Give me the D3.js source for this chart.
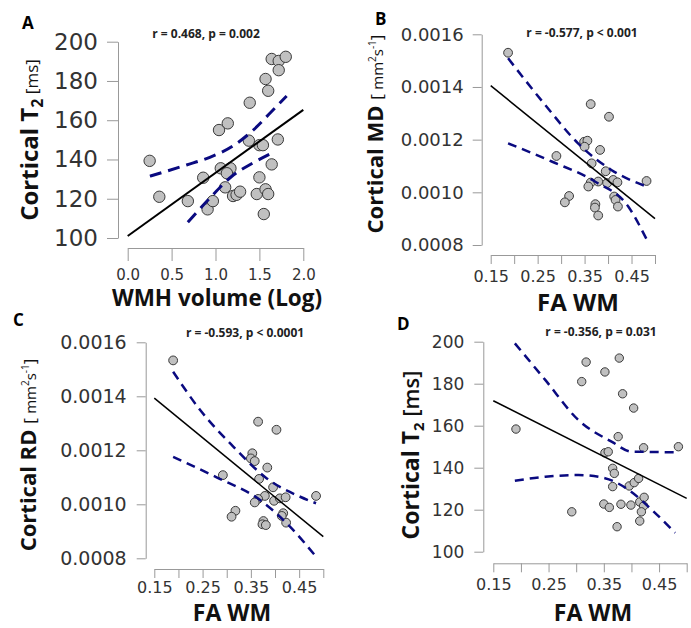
<!DOCTYPE html>
<html>
<head>
<meta charset="utf-8">
<script src="https://cdn.jsdelivr.net/npm/d3@7"></script>
<style>
  body { margin: 0; background: #fff; }
  svg { font-family: "Open Sans", sans-serif; }
</style>
</head>
<body>
<svg id="chart" width="691" height="628"></svg>
<script>
// ---- data ----
// A: WMH volume (log) vs cortical T2
const aX = [0.25, 0.36, 0.685, 0.86, 0.91, 0.97, 1.04, 1.14, 1.06, 1.17, 1.13, 1.11, 1.2, 1.24, 1.28, 1.39,
            1.38, 1.5, 1.54, 1.5, 1.47, 1.57, 1.6, 1.55, 1.64, 1.71, 1.57, 1.6, 1.64, 1.72, 1.8, 1.72];
const aY = [139.3, 121, 118.8, 130.7, 114.6, 118.8, 155, 158.4, 135.5, 135.5, 133, 125.8, 121.4, 122, 123.6, 168.9,
            149.6, 147.3, 147.3, 130.9, 122.4, 124.8, 122.4, 112.2, 137.5, 150.2, 181, 175, 191.2, 190.2, 192.3, 185.5];
const aFitX = [0, 2];
const aFitY = [101, 165.3];
const aUpperX = [0.253, 0.67, 0.935, 1.2, 1.43, 1.636, 1.81];
const aUpperY = [131.5, 137.2, 141.1, 146.9, 155, 164.3, 172.3];
const aLowerX = [0.685, 0.935, 1.18, 1.43, 1.67];
const aLowerY = [108, 120.3, 131.2, 138.3, 143.9];

// B: FA WM vs cortical MD
const bX = [0.187, 0.363, 0.402, 0.349, 0.356, 0.35, 0.383, 0.29, 0.365, 0.395, 0.363, 0.379, 0.358,
            0.398, 0.411, 0.42, 0.317, 0.308, 0.373, 0.372, 0.379, 0.413, 0.416, 0.421, 0.482];
const bY = [0.00153, 0.001335, 0.001287, 0.001192, 0.001196, 0.001173, 0.001161, 0.001138, 0.00111, 0.00108,
            0.001037, 0.001041, 0.001022, 0.001035, 0.001047, 0.001038, 0.000986, 0.000962, 0.000955,
            0.000942, 0.000912, 0.000984, 0.000971, 0.000946, 0.001043];
const bFitX = [0.15, 0.5];
const bFitY = [0.001405, 0.0009];
const bUpperX = [0.187, 0.266, 0.336, 0.407, 0.482];
const bUpperY = [0.001509, 0.001332, 0.001186, 0.001085, 0.001022];
const bLowerX = [0.187, 0.28, 0.372, 0.443, 0.482];
const bLowerY = [0.001186, 0.001117, 0.001041, 0.000946, 0.000822];

// C: FA WM vs cortical RD
const cX = [0.189, 0.365, 0.403, 0.353, 0.35, 0.358, 0.384, 0.292, 0.367, 0.396, 0.379, 0.365, 0.358,
            0.398, 0.41, 0.422, 0.485, 0.318, 0.31, 0.376, 0.374, 0.381, 0.417, 0.414, 0.423];
const cY = [0.001533, 0.001306, 0.001276, 0.001189, 0.00117, 0.00116, 0.001136, 0.001108, 0.001094, 0.001063,
            0.001031, 0.00102, 0.001007, 0.001013, 0.001022, 0.001026, 0.001031, 0.000976, 0.000954,
            0.000938, 0.000926, 0.000923, 0.000967, 0.000957, 0.000932];
const cFitX = [0.15, 0.5];
const cFitY = [0.001393, 0.00088];
const cUpperX = [0.189, 0.245, 0.314, 0.383, 0.452, 0.485];
const cUpperY = [0.001491, 0.001349, 0.001213, 0.001096, 0.001028, 0.001004];
const cLowerX = [0.189, 0.279, 0.369, 0.431, 0.485];
const cLowerY = [0.001176, 0.0011, 0.001016, 0.000917, 0.000806];

// D: FA WM vs cortical T2
const dX = [0.191, 0.292, 0.31, 0.318, 0.352, 0.378, 0.384, 0.404, 0.376, 0.352, 0.358, 0.422, 0.485, 0.366, 0.369,
            0.366, 0.396, 0.405, 0.413, 0.35, 0.36, 0.381, 0.399, 0.415, 0.423, 0.422, 0.418, 0.415, 0.374];
const dY = [158.4, 119, 181, 190.3, 185.6, 192.2, 175.2, 168.4, 154.8, 147.1, 147.6, 149.5, 150, 139.7, 137.3,
            131, 131.3, 132.9, 134.9, 122.7, 121.1, 122.6, 122.2, 123.7, 125.9, 121.8, 119, 114.6, 111.9];
const dFitX = [0.15, 0.5];
const dFitY = [171.9, 125.4];
const dUpperX = [0.189, 0.244, 0.304, 0.364, 0.401, 0.44, 0.479];
const dUpperY = [199.2, 181.8, 162.7, 152.4, 147.6, 147.5, 147.3];
const dLowerX = [0.189, 0.244, 0.304, 0.352, 0.395, 0.437, 0.479];
const dLowerY = [133.8, 135.7, 136.5, 135, 129.4, 119.9, 109];

// ticks
const wmhTicks = [0, 0.5, 1, 1.5, 2];
const t2Ticks = [100, 120, 140, 160, 180, 200];
const faTicks = [0.15, 0.2, 0.25, 0.3, 0.35, 0.4, 0.45, 0.5];
const faTickLabels = ["0.15", "0.25", "0.35", "0.45"];
const mdTicks = [0.0008, 0.001, 0.0012, 0.0014, 0.0016];

const stats = ["r = 0.468, p = 0.002", "r = -0.577, p < 0.001", "r = -0.593, p < 0.0001", "r = -0.356, p = 0.031"];

const faFormat = d => {
  const s = d3.format(".2f")(d);
  return faTickLabels.includes(s) ? s : "";
};

// diffusion unit label: [mm2 s-1]
const unitParts = [{ t: "[ ", w: 400, s: 17 }, { t: "mm", w: 400, s: 15 },
  { t: "2", w: 400, s: 10, dy: -7 }, { t: "s", w: 400, s: 15, dy: 7 }, { t: "-1", w: 400, s: 10, dy: -7 },
  { t: "]", w: 400, s: 17, dy: 7 }];

// ---- layout of the four panels ----
const panels = [
  { label: "A", lx: 22, ly: 29, x: aX, y: aY, fitX: aFitX, fitY: aFitY,
    upX: aUpperX, upY: aUpperY, loX: aLowerX, loY: aLowerY,
    xDomain: [0, 2], xRange: [127.7, 303.3], yDomain: [100, 200], yRange: [238, 41.7],
    axisX: 248, axisY: 118, xTicks: wmhTicks, yTicks: t2Ticks, xFormat: d3.format(".1f"), yFormat: d3.format("d"),
    xTick: 13, xPad: 8, xFont: 15, yTick: 11, yPad: 9, yFont: 23,
    r: 5.7, fitW: 2, ciW: 3, dash: "12,7",
    stat: stats[0], sx: 206, sy: 38,
    xTitle: "WMH volume (Log)", xtx: 217, xty: 306, xtFont: 22.5,
    ytx: 38, yty: 140,
    yTitle: [{ t: "Cortical T", w: 700, s: 24 }, { t: "2", w: 700, s: 16, dy: 5 }, { t: " [ms]", w: 400, s: 17, dy: -5 }] },
  { label: "B", lx: 375, ly: 25, x: bX, y: bY, fitX: bFitX, fitY: bFitY,
    upX: bUpperX, upY: bUpperY, loX: bLowerX, loY: bLowerY,
    xDomain: [0.15, 0.5], xRange: [490.7, 655], yDomain: [0.0008, 0.0016], yRange: [245, 34.3],
    axisX: 255, axisY: 481.7, xTicks: faTicks, yTicks: mdTicks, xFormat: faFormat, yFormat: d3.format(".4f"),
    xTick: 9, xPad: 7, xFont: 16, yTick: 9, yPad: 9, yFont: 18,
    r: 4.4, fitW: 1.5, ciW: 2.5, dash: "9,6",
    stat: stats[1], sx: 582, sy: 37,
    xTitle: "FA WM", xtx: 578, xty: 311, xtFont: 24,
    ytx: 383, yty: 134,
    yTitle: [{ t: "Cortical MD ", w: 700, s: 22 }].concat(unitParts) },
  { label: "C", lx: 13, ly: 326, x: cX, y: cY, fitX: cFitX, fitY: cFitY,
    upX: cUpperX, upY: cUpperY, loX: cLowerX, loY: cLowerY,
    xDomain: [0.15, 0.5], xRange: [154.3, 323.3], yDomain: [0.0008, 0.0016], yRange: [558.3, 342.3],
    axisX: 569, axisY: 145.7, xTicks: faTicks, yTicks: mdTicks, xFormat: faFormat, yFormat: d3.format(".4f"),
    xTick: 9, xPad: 4, xFont: 16, yTick: 9, yPad: 10, yFont: 19,
    r: 4.4, fitW: 1.5, ciW: 2.5, dash: "9,6",
    stat: stats[2], sx: 245, sy: 337,
    xTitle: "FA WM", xtx: 232, xty: 621, xtFont: 23,
    ytx: 36, yty: 455,
    yTitle: [{ t: "Cortical RD ", w: 700, s: 22 }].concat(unitParts) },
  { label: "D", lx: 397, ly: 330, x: dX, y: dY, fitX: dFitX, fitY: dFitY,
    upX: dUpperX, upY: dUpperY, loX: dLowerX, loY: dLowerY,
    xDomain: [0.15, 0.5], xRange: [493.3, 686.7], yDomain: [100, 200], yRange: [551.7, 341.7],
    axisX: 563.3, axisY: 483.3, xTicks: faTicks, yTicks: t2Ticks, xFormat: faFormat, yFormat: d3.format("d"),
    xTick: 9, xPad: 6, xFont: 16, yTick: 9, yPad: 10, yFont: 17,
    r: 4.2, fitW: 1.5, ciW: 2.5, dash: "9,6",
    stat: stats[3], sx: 601, sy: 336,
    xTitle: "FA WM", xtx: 593, xty: 621, xtFont: 23,
    ytx: 419, yty: 455,
    yTitle: [{ t: "Cortical T", w: 700, s: 23 }, { t: "2", w: 700, s: 15, dy: 5 }, { t: " [ms]", w: 600, s: 22, dy: -5 }] }
];

const svg = d3.select("#chart");

function styleAxis(sel, size) {
  sel.attr("font-family", "'DejaVu Sans', sans-serif").attr("font-size", size);
  sel.selectAll("path, line").attr("stroke", "#999");
  sel.selectAll("text").attr("fill", "#333");
}

panels.forEach(p => {
  const x = d3.scaleLinear().domain(p.xDomain).range(p.xRange);
  const y = d3.scaleLinear().domain(p.yDomain).range(p.yRange);
  const g = svg.append("g");

  // axes drawn off the plot like base R
  g.append("g")
    .attr("transform", `translate(0,${p.axisX})`)
    .call(d3.axisBottom(x).tickValues(p.xTicks).tickFormat(p.xFormat)
      .tickSize(p.xTick).tickSizeOuter(0).tickPadding(p.xPad))
    .call(styleAxis, p.xFont);

  g.append("g")
    .attr("transform", `translate(${p.axisY},0)`)
    .call(d3.axisLeft(y).tickValues(p.yTicks).tickFormat(p.yFormat)
      .tickSize(p.yTick).tickSizeOuter(0).tickPadding(p.yPad))
    .call(styleAxis, p.yFont);

  // points
  const pts = p.x.map((v, i) => [v, p.y[i]]);
  g.append("g")
    .selectAll("circle")
    .data(pts)
    .enter().append("circle")
    .attr("cx", d => x(d[0]))
    .attr("cy", d => y(d[1]))
    .attr("r", p.r)
    .attr("fill", "#c0c0c0")
    .attr("stroke", "#3a3a3a")
    .attr("stroke-width", 1);

  // confidence bands
  const curve = d3.line().x(d => x(d[0])).y(d => y(d[1])).curve(d3.curveMonotoneX);
  [[p.upX, p.upY], [p.loX, p.loY]].forEach(([bx, by]) => {
    g.append("path")
      .attr("d", curve(bx.map((v, i) => [v, by[i]])))
      .attr("fill", "none")
      .attr("stroke", "#0a0a80")
      .attr("stroke-width", p.ciW)
      .attr("stroke-dasharray", p.dash);
  });

  // regression line
  g.append("path")
    .attr("d", d3.line().x(d => x(d[0])).y(d => y(d[1]))(p.fitX.map((v, i) => [v, p.fitY[i]])))
    .attr("stroke", "#000")
    .attr("stroke-width", p.fitW)
    .attr("fill", "none");

  // texts
  g.append("text")
    .attr("x", p.lx).attr("y", p.ly)
    .attr("font-weight", 700).attr("font-size", 17)
    .text(p.label);

  g.append("text")
    .attr("x", p.sx).attr("y", p.sy)
    .attr("text-anchor", "middle")
    .attr("font-weight", 700).attr("font-size", 12).attr("fill", "#222")
    .text(p.stat);

  g.append("text")
    .attr("x", p.xtx).attr("y", p.xty)
    .attr("text-anchor", "middle")
    .attr("font-weight", 700).attr("font-size", p.xtFont).attr("fill", "#111")
    .text(p.xTitle);

  const yt = g.append("text")
    .attr("transform", `translate(${p.ytx},${p.yty}) rotate(-90)`)
    .attr("text-anchor", "middle")
    .attr("fill", "#111");
  p.yTitle.forEach(part => {
    yt.append("tspan")
      .attr("font-weight", part.w)
      .attr("font-size", part.s)
      .attr("dy", part.dy || 0)
      .text(part.t);
  });
});
</script>
</body>
</html>
